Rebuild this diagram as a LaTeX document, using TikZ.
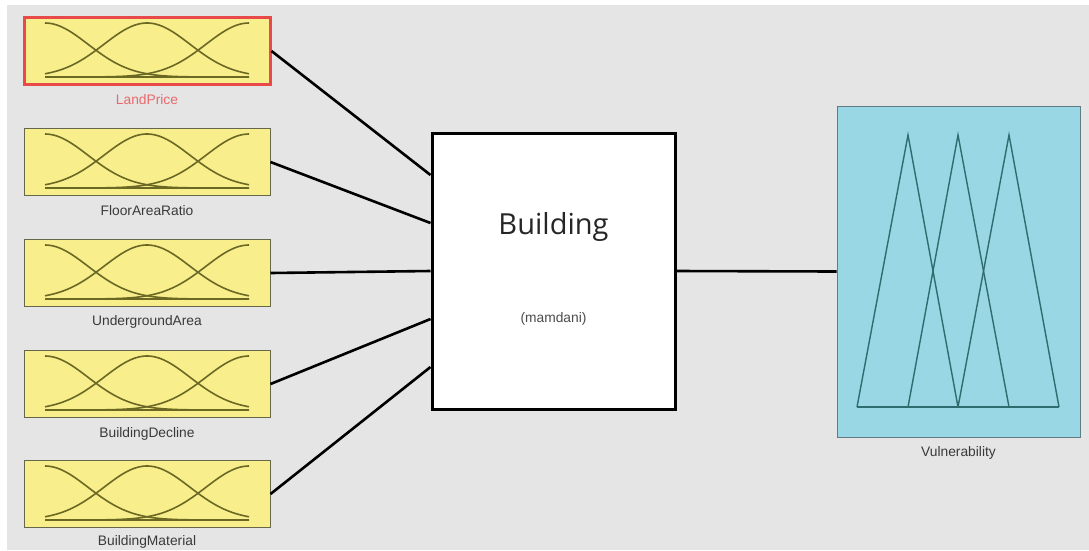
\documentclass[tikz,border=0pt]{standalone}
\usepackage{fontspec}
\setmainfont{Liberation Sans}
\newfontfamily\opensans{Open Sans}
\definecolor{bggray}{HTML}{E5E5E5}
\definecolor{mfyellow}{HTML}{F8EE8C}
\definecolor{mfolive}{HTML}{6B6824}
\definecolor{boxedge}{HTML}{66664A}
\definecolor{selred}{HTML}{E8494B}
\definecolor{labred}{HTML}{E86A6C}
\definecolor{outcyan}{HTML}{98D7E3}
\definecolor{outedge}{HTML}{5E7C82}
\definecolor{tealline}{HTML}{2F6C70}
\definecolor{labgray}{HTML}{3A3A3A}
\tikzset{
  inbox/.style={rectangle, fill=mfyellow, draw=boxedge, line width=1pt, minimum width=246pt, minimum height=67pt, inner sep=0pt},
  selbox/.style={inbox, draw=selred, line width=3pt},
  lab/.style={font=\fontsize{13.8}{15}\selectfont, text=labgray, inner sep=0pt},
  mfline/.style={draw=mfolive, line width=1.6pt},
  wire/.style={draw=black, line width=2.6pt},
  tri/.style={draw=tealline, line width=1.4pt, line join=miter},
}
\newcommand{\mfcurves}[1]{%
  \begin{scope}[shift={(#1)}]
    \draw[mfline] (-102,26) -- (102,26);
    \draw[mfline] plot[domain=-102:102, samples=70, smooth] (\x, {26-54*exp(-0.5*((\x+102)/43)^2)});
    \draw[mfline] plot[domain=-102:102, samples=70, smooth] (\x, {26-54*exp(-0.5*((\x)/43)^2)});
    \draw[mfline] plot[domain=-102:102, samples=70, smooth] (\x, {26-54*exp(-0.5*((\x-102)/43)^2)});
  \end{scope}}
\begin{document}
\begin{tikzpicture}[x=1pt, y=-1pt]
  \useasboundingbox (0,0) rectangle (1089,550);
  \fill[white] (0,0) rectangle (1089,550);
  \fill[bggray] (7,5) rectangle (1089,550);

  % input boxes
  \node[selbox] (in1) at (147,51) {};
  \node[inbox] (in2) at (147,162) {};
  \node[inbox] (in3) at (147,273) {};
  \node[inbox] (in4) at (147,384) {};
  \node[inbox] (in5) at (147,494) {};
  \mfcurves{147,51}
  \mfcurves{147,162}
  \mfcurves{147,273}
  \mfcurves{147,384}
  \mfcurves{147,494}

  \node[lab, text=labred] (l1) at (147,100) {LandPrice};
  \node[lab] (l2) at (147,211) {FloorAreaRatio};
  \node[lab] (l3) at (147,322) {UndergroundArea};
  \node[lab] (l4) at (147,434) {BuildingDecline};
  \node[lab] (l5) at (147,542) {BuildingMaterial};

  % central system box
  \node[rectangle, fill=white, draw=black, line width=3pt, minimum width=243pt, minimum height=276pt, inner sep=0pt] (sys) at (553.5,271) {};
  \node[font=\opensans\fontsize{29}{32}\selectfont, text=black!85, inner sep=0pt] (sysname) at (553.5,227) {Building};
  \node[lab, text=black!70] (systype) at (553.5,319) {(mamdani)};

  % output box
  \node[rectangle, fill=outcyan, draw=outedge, line width=1pt, minimum width=243pt, minimum height=331pt, inner sep=0pt] (out) at (958.5,271.5) {};
  \draw[tri] (857,407) -- (1059,407);
  \draw[tri] (857,407) -- (908,135) -- (958,407);
  \draw[tri] (908,407) -- (958,135) -- (1009,407);
  \draw[tri] (958,407) -- (1009,135) -- (1059,407);
  \node[lab] (lout) at (958.5,453) {Vulnerability};

  % connectors
  \draw[wire] (in1.east) -- ([yshift=96pt]sys.west);
  \draw[wire] (in2.east) -- ([yshift=48pt]sys.west);
  \draw[wire] (in3.east) -- (sys.west);
  \draw[wire] (in4.east) -- ([yshift=-48pt]sys.west);
  \draw[wire] (in5.east) -- ([yshift=-96pt]sys.west);
  \draw[wire] (sys.east) -- (out.west);
\end{tikzpicture}
\end{document}
